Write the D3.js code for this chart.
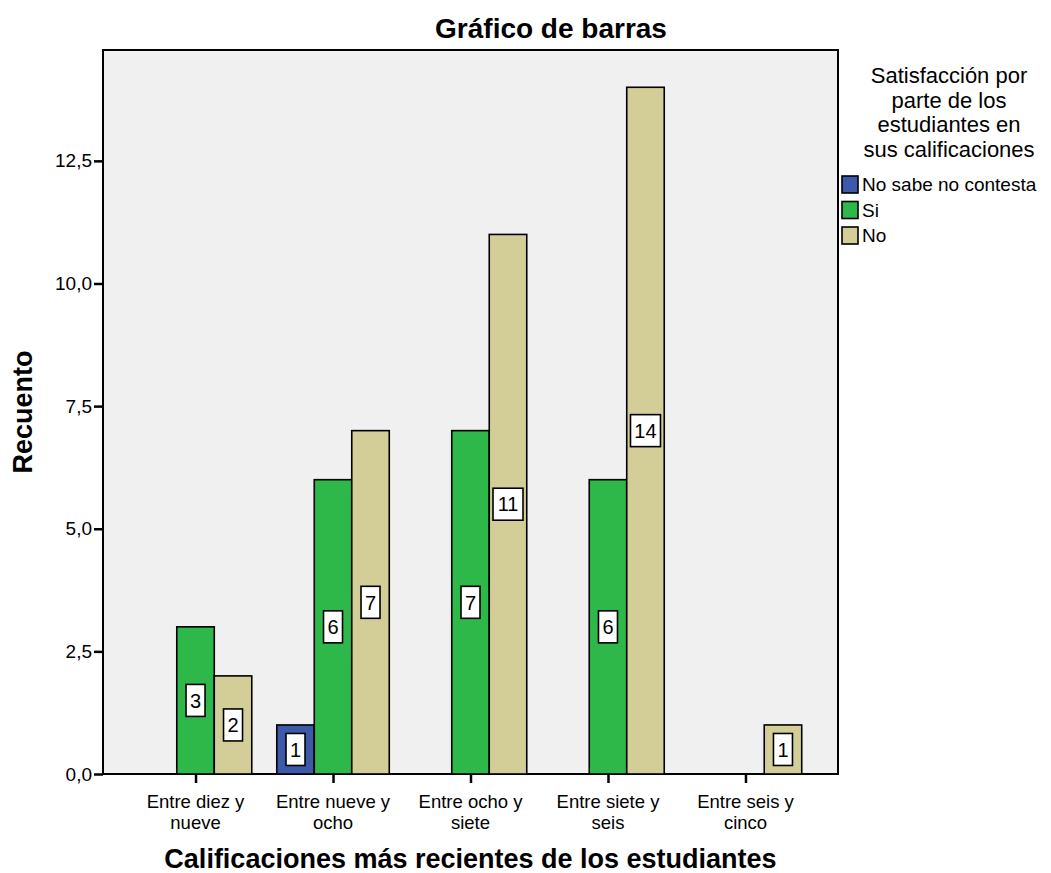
<!DOCTYPE html>
<html>
<head>
<meta charset="utf-8">
<script src="https://cdn.jsdelivr.net/npm/d3@7"></script>
<style>
  body { margin: 0; background: #fff; }
  svg { display: block; font-family: "Liberation Sans", Arial, sans-serif; }
</style>
</head>
<body>
<div id="chart"></div>
<script>
const categories = [["Entre diez y", "nueve"], ["Entre nueve y", "ocho"], ["Entre ocho y", "siete"], ["Entre siete y", "seis"], ["Entre seis y", "cinco"]];
const seriesNames = ["No sabe no contesta", "Si", "No"];
const seriesColors = ["#3D59A9", "#2EB84A", "#D3CE97"];
const noSabe = [0, 1, 0, 0, 0];
const si = [3, 6, 7, 6, 0];
const no = [2, 7, 11, 14, 1];
const yTicks = [0, 2.5, 5, 7.5, 10, 12.5];
const legendTitle = ["Satisfacción por", "parte de los", "estudiantes en", "sus calificaciones"];

const W = 1051, H = 873;
const margin = { top: 50, left: 103, right: 213, bottom: 99 };
const pw = W - margin.left - margin.right;
const ph = H - margin.top - margin.bottom;

const svg = d3.select("#chart").append("svg").attr("width", W).attr("height", H);

svg.append("text").attr("x", 551).attr("y", 38).attr("text-anchor", "middle")
  .style("font-size", "28px").style("font-weight", "700").text("Gráfico de barras");

const g = svg.append("g").attr("transform", `translate(${margin.left},${margin.top})`);

g.append("rect").attr("width", pw).attr("height", ph).attr("fill", "#F0F0F0")
  .attr("stroke", "#000").attr("stroke-width", 2);

const catKeys = categories.map(c => c.join(" "));
const x = d3.scalePoint().domain(catKeys).range([0, pw]).padding(0.673);
const inner = d3.scaleBand().domain(seriesNames).range([-56.25, 56.25]);
const y = d3.scaleLinear().domain([0, 14.76]).range([ph, 0]);

const series = [noSabe, si, no];
const bars = [];
series.forEach((vals, si_) => vals.forEach((v, ci) => {
  if (v > 0) bars.push({ cat: catKeys[ci], s: seriesNames[si_], color: seriesColors[si_], v });
}));

g.selectAll(".bar").data(bars).enter().append("rect").attr("class", "bar")
  .attr("x", d => x(d.cat) + inner(d.s)).attr("width", inner.bandwidth())
  .attr("y", d => y(d.v)).attr("height", d => y(0) - y(d.v))
  .attr("fill", d => d.color).attr("stroke", "#000").attr("stroke-width", 1.6);

// value labels in white boxes
const lab = g.selectAll(".lab").data(bars).enter().append("g").attr("class", "lab")
  .attr("transform", d => `translate(${x(d.cat) + inner(d.s) + inner.bandwidth() / 2},${(y(d.v) + y(0)) / 2})`);
lab.append("rect").attr("x", d => String(d.v).length > 1 ? -15 : -9.5)
  .attr("width", d => String(d.v).length > 1 ? 30 : 19).attr("y", -16).attr("height", 32)
  .attr("fill", "#fff").attr("stroke", "#000").attr("stroke-width", 1.6);
lab.append("text").attr("text-anchor", "middle").attr("dy", "0.36em")
  .style("font-size", "20px").text(d => d.v);

// y axis
const yAxis = g.append("g").call(d3.axisLeft(y).tickValues(yTicks).tickSize(9).tickPadding(2)
  .tickFormat(d => d3.format(".1f")(d).replace(".", ",")));
yAxis.select(".domain").remove();
yAxis.selectAll("line").attr("stroke-width", 2.5);
yAxis.selectAll("text").style("font-size", "19px").attr("fill", "#000").style("font-family", "inherit");

// x axis
const xAxis = g.append("g").attr("transform", `translate(0,${ph})`)
  .call(d3.axisBottom(x).tickSize(9).tickFormat(""));
xAxis.select(".domain").remove();
xAxis.selectAll("line").attr("stroke-width", 2.5);
g.selectAll(".xlab").data(categories).enter().append("text").attr("class", "xlab")
  .attr("text-anchor", "middle").style("font-size", "18.5px")
  .attr("transform", (d, i) => `translate(${x(catKeys[i])},${ph + 34})`)
  .selectAll("tspan").data(d => d).enter().append("tspan")
  .attr("x", 0).attr("dy", (d, i) => i === 0 ? 0 : 21).text(d => d);

// axis titles
svg.append("text").attr("x", margin.left + pw / 2).attr("y", 868).attr("text-anchor", "middle")
  .style("font-size", "27px").style("font-weight", "700")
  .text("Calificaciones más recientes de los estudiantes");
svg.append("text").attr("transform", `translate(32,${margin.top + ph / 2}) rotate(-90)`)
  .attr("text-anchor", "middle").style("font-size", "27px").style("font-weight", "700").text("Recuento");

// legend
const lg = svg.append("g");
lg.selectAll(".lt").data(legendTitle).enter().append("text").attr("class", "lt")
  .attr("x", 949).attr("y", (d, i) => 83 + i * 24.5).attr("text-anchor", "middle")
  .style("font-size", "22px").text(d => d);
const items = lg.selectAll(".li").data(seriesNames).enter().append("g").attr("class", "li")
  .attr("transform", (d, i) => `translate(842,${176 + i * 25.5})`);
items.append("rect").attr("width", 16).attr("height", 17)
  .attr("fill", (d, i) => seriesColors[i]).attr("stroke", "#000").attr("stroke-width", 1.6);
items.append("text").attr("x", 20).attr("y", 8.5).attr("dy", "0.36em")
  .style("font-size", "19px").text(d => d);
</script>
</body>
</html>
